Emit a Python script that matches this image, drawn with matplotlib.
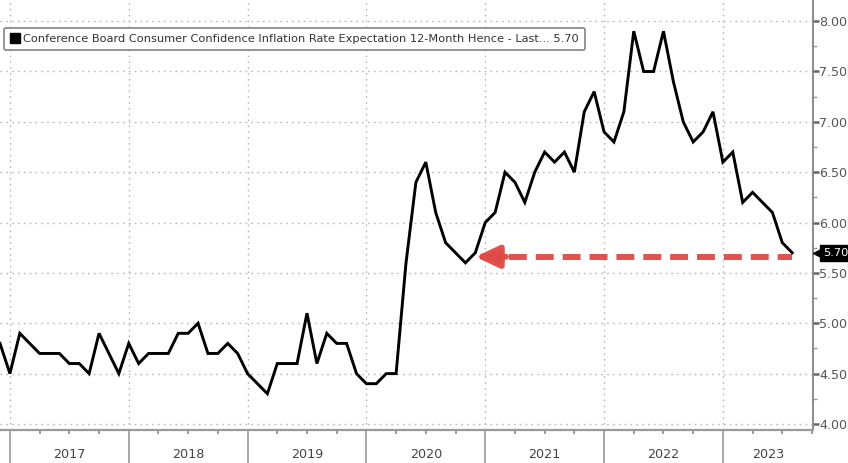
import matplotlib
matplotlib.use("Agg")
import matplotlib.pyplot as plt
from matplotlib.lines import Line2D
from matplotlib.ticker import MultipleLocator, FixedLocator, NullFormatter
import matplotlib.transforms as mtrans

# ---------------- data (monthly, Dec 2016 .. Aug 2023) ----------------
start_year, start_month = 2016, 12
values = [
    4.8,
    4.5, 4.9, 4.8, 4.7, 4.7, 4.7, 4.6, 4.6, 4.5, 4.9, 4.7, 4.5,   # 2017
    4.8, 4.6, 4.7, 4.7, 4.7, 4.9, 4.9, 5.0, 4.7, 4.7, 4.8, 4.7,   # 2018
    4.5, 4.4, 4.3, 4.6, 4.6, 4.6, 5.1, 4.6, 4.9, 4.8, 4.8, 4.5,   # 2019
    4.4, 4.4, 4.5, 4.5, 5.6, 6.4, 6.6, 6.1, 5.8, 5.7, 5.6, 5.7,   # 2020
    6.0, 6.1, 6.5, 6.4, 6.2, 6.5, 6.7, 6.6, 6.7, 6.5, 7.1, 7.3,   # 2021
    6.9, 6.8, 7.1, 7.9, 7.5, 7.5, 7.9, 7.4, 7.0, 6.8, 6.9, 7.1,   # 2022
    6.6, 6.7, 6.2, 6.3, 6.2, 6.1, 5.8, 5.7,                       # 2023
]
years = [2017, 2018, 2019, 2020, 2021, 2022, 2023]
y_ticks = [4.00, 4.50, 5.00, 5.50, 6.00, 6.50, 7.00, 7.50, 8.00]
legend_label = "Conference Board Consumer Confidence Inflation Rate Expectation 12-Month Hence - Last... 5.70"
last_label = "5.70"
arrow_level = 5.66

# ---------------- figure ----------------
W, H, DPI = 848, 463, 100
fig = plt.figure(figsize=(W / DPI, H / DPI), dpi=DPI)
ax_w = 813 / W
ax_b = (H - 430) / H
ax = fig.add_axes([0.0, ax_b, ax_w, 1 - ax_b])

x = list(range(len(values)))
ax.plot(x, values, color="black", lw=2.1, solid_joinstyle="miter", zorder=3)

x_right = 82.1
ax.set_xlim(0, x_right)
ax.set_ylim(3.94, 8.21)

# Year boundaries (January positions)
jan_idx = [(y - start_year) * 12 + (1 - start_month) for y in years]

# grid
for j in jan_idx:
    ax.axvline(j, color="#b8b8b8", lw=1.0, ls=(0, (1.2, 3.0)), zorder=1)
for t in y_ticks:
    ax.axhline(t, color="#b8b8b8", lw=1.0, ls=(0, (1.2, 3.0)), zorder=1)

# spines
for s in ["top", "left"]:
    ax.spines[s].set_visible(False)
ax.spines["bottom"].set_color("#9a9a9a")
ax.spines["bottom"].set_linewidth(1.6)
ax.spines["right"].set_color("#8a8a8a")
ax.spines["right"].set_linewidth(1.4)

# y axis on right
ax.yaxis.tick_right()
ax.yaxis.set_major_locator(FixedLocator(y_ticks))
ax.yaxis.set_minor_locator(MultipleLocator(0.25))
ax.set_yticklabels([f"{t:.2f}" for t in y_ticks])
ax.tick_params(axis="y", which="major", direction="out", length=4, width=1.8,
               color="#666666", labelsize=9.1, labelcolor="#555555", pad=0.5)
ax.tick_params(axis="y", which="minor", direction="out", length=3, width=1.0,
               color="#999999")
ax.tick_params(axis="y", which="both", left=False)

# x axis: year separators as long major ticks, quarterly minor ticks
ax.xaxis.set_major_locator(FixedLocator(jan_idx))
ax.xaxis.set_major_formatter(NullFormatter())
quarters = [j + q for j in jan_idx for q in (3, 6, 9) if j + q < x_right]
ax.xaxis.set_minor_locator(FixedLocator(quarters))
ax.tick_params(axis="x", which="major", direction="out", length=24, width=1.3,
               color="#a0a0a0")
ax.tick_params(axis="x", which="minor", direction="out", length=3, width=1.2,
               color="#8a8a8a")

trans = mtrans.blended_transform_factory(ax.transData, ax.transAxes)
for i, yr in enumerate(years):
    left = jan_idx[i]
    right = jan_idx[i + 1] if i + 1 < len(jan_idx) else x_right
    ax.text((left + right) / 2, -25 / 430, str(yr), transform=trans,
            ha="center", va="center", fontsize=9.2, color="#444444")

# legend
handle = Line2D([], [], marker="s", color="black", ls="none", markersize=7.5)
leg = ax.legend([handle], [legend_label], loc="upper left",
                bbox_to_anchor=(0.005, 0.936), frameon=True, fancybox=True,
                fontsize=8.2, handlelength=0.8, handletextpad=0.35,
                borderpad=0.55, borderaxespad=0.0)
leg.get_frame().set_edgecolor("#8c8c8c")
leg.get_frame().set_linewidth(1.3)
leg.get_frame().set_alpha(1.0)
for t in leg.get_texts():
    t.set_color("#333333")

# red dashed arrow back to the 2020 trough level
last_i = len(values) - 1
trough_i = values.index(min(values[44:50]), 44)
tip = trough_i + 1.0
head_len = 1.9
red = "#e04a44"
ax.plot([last_i, tip + head_len], [arrow_level, arrow_level], color=red,
        lw=4.3, ls=(0.6, (3.0, 1.5)), dash_capstyle="butt", alpha=0.95, zorder=2)
ax.annotate("", xy=(tip, arrow_level), xytext=(tip + head_len + 1.2, arrow_level),
            arrowprops=dict(arrowstyle="-|>,head_length=0.7,head_width=0.33",
                            mutation_scale=20, color=red, lw=4.3,
                            shrinkA=0, shrinkB=0, alpha=0.95), zorder=2)

# last value tag on right axis
trans_r = mtrans.blended_transform_factory(ax.transAxes, ax.transData)
ax.plot([1.0 + 6 / 813], [values[-1]], marker="<", ms=9, color="black",
        transform=trans_r, clip_on=False, zorder=5)
ax.annotate(last_label, xy=(1.0, values[-1]), xycoords=("axes fraction", "data"),
            xytext=(7.0, 0), textcoords="offset points", ha="left", va="center",
            fontsize=8.2, color="white",
            bbox=dict(boxstyle="square,pad=0.25", fc="black", ec="black"),
            annotation_clip=False, zorder=6)

fig.savefig("out.png", dpi=DPI)
